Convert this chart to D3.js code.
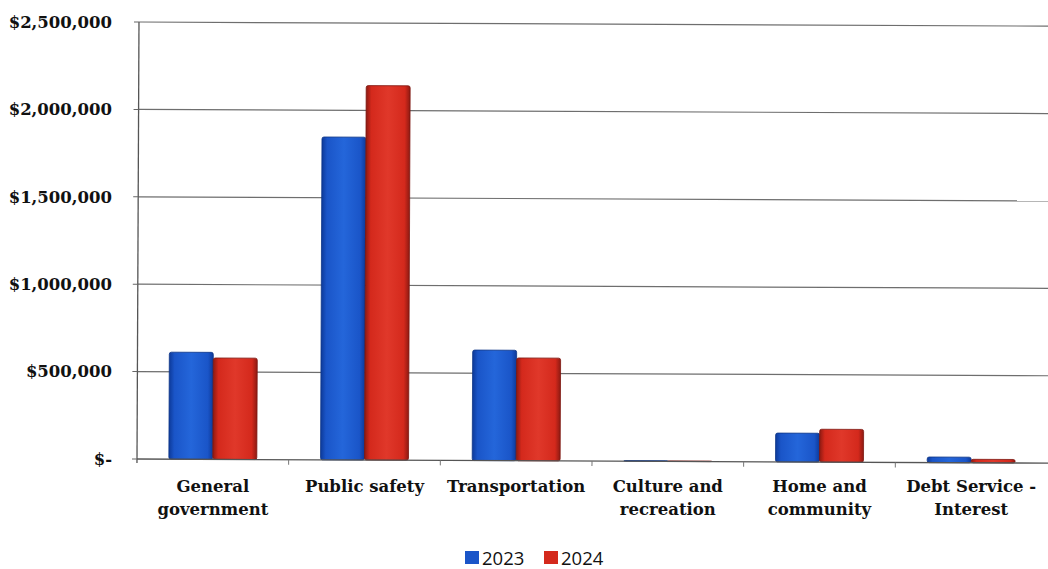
<!DOCTYPE html>
<html>
<head>
  <meta charset="utf-8">
  <title>Expenditures 2023 vs 2024</title>
  <style>
    body { margin: 0; background: #fff; }
    .tick-label { font-family: "DejaVu Serif", "Liberation Serif", serif; font-weight: bold; font-size: 16.5px; fill: #111; }
    .cat-label { font-family: "DejaVu Serif", "Liberation Serif", serif; font-weight: bold; font-size: 16.5px; fill: #111; }
    .legend-label { font-family: "Open Sans", "Liberation Sans", sans-serif; font-size: 18.5px; fill: #111; }
  </style>
</head>
<body>
  <script src="https://d3js.org/d3.v7.min.js"></script>
  <script>
    var categories = [["General", "government"], ["Public safety"], ["Transportation"], ["Culture and", "recreation"], ["Home and", "community"], ["Debt Service -", "Interest"]];
    var series = ["2023", "2024"];
    var values2023 = [612000, 1847000, 632000, 4000, 165000, 32000];
    var values2024 = [580000, 2142000, 588000, 3000, 188000, 20000];
    var yTicks = [0, 500000, 1000000, 1500000, 2000000, 2500000];
    var yTickLabels = ["$-", "$500,000", "$1,000,000", "$1,500,000", "$2,000,000", "$2,500,000"];

    var W = 1048, H = 569;
    var margin = {top: 22, right: 0, bottom: 110, left: 137};
    var width = 1048 - margin.left - 1,
        height = 459 - margin.top;

    var svg = d3.select("body").append("svg")
        .attr("width", W)
        .attr("height", H);

    var defs = svg.append("defs");
    function barGrad(id, edge, mid, light) {
      var g = defs.append("linearGradient").attr("id", id)
          .attr("x1", "0").attr("x2", "1").attr("y1", "0").attr("y2", "0");
      g.append("stop").attr("offset", "0").attr("stop-color", edge);
      g.append("stop").attr("offset", "0.12").attr("stop-color", mid);
      g.append("stop").attr("offset", "0.5").attr("stop-color", light);
      g.append("stop").attr("offset", "0.88").attr("stop-color", mid);
      g.append("stop").attr("offset", "1").attr("stop-color", edge);
    }
    barGrad("g2023", "#0d3a9a", "#1a55c8", "#2466da");
    barGrad("g2024", "#8e1a12", "#d4291c", "#e0382a");
    var colors = {"2023": "url(#g2023)", "2024": "url(#g2024)"};
    var legendColors = {"2023": "#1a55c8", "2024": "#d4291c"};

    var data = categories.map(function(c, i) {
      return {cat: c.join(" "), lines: c, v: {"2023": values2023[i], "2024": values2024[i]}};
    });

    var x = d3.scaleBand()
        .domain(data.map(function(d) { return d.cat; }))
        .range([0, width])
        .paddingInner(0)
        .paddingOuter(0);

    var x1 = d3.scaleBand()
        .domain(series)
        .range([x.bandwidth() * 0.21, x.bandwidth() * 0.79]);

    var y = d3.scaleLinear()
        .domain([0, 2500000])
        .range([height, 0]);

    // plot area, slightly skewed as in the scanned original
    var plot = svg.append("g")
        .attr("transform", "translate(" + margin.left + "," + margin.top + ") rotate(0.26, 0, " + height + ")");

    plot.selectAll(".grid")
        .data(yTicks.slice(1))
        .enter().append("line")
        .attr("class", "grid")
        .attr("x1", 0).attr("x2", width + 20)
        .attr("y1", function(d) { return y(d); })
        .attr("y2", function(d) { return y(d); })
        .attr("stroke", "#6e6e6e")
        .attr("stroke-width", 1.2);

    var groups = plot.selectAll(".cat")
        .data(data)
        .enter().append("g")
        .attr("transform", function(d) { return "translate(" + x(d.cat) + ",0)"; });

    groups.selectAll("rect")
        .data(function(d) { return series.map(function(s) { return {s: s, v: d.v[s]}; }); })
        .enter().append("rect")
        .attr("x", function(d) { return x1(d.s); })
        .attr("y", function(d) { return y(d.v); })
        .attr("width", x1.bandwidth())
        .attr("height", function(d) { return height - y(d.v); })
        .attr("rx", 2)
        .attr("fill", function(d) { return colors[d.s]; })
        .attr("stroke", function(d) { return d.s === "2023" ? "#0c3486" : "#7d1610"; })
        .attr("stroke-width", 0.8);

    // x axis
    var xAxis = plot.append("g")
        .attr("transform", "translate(0," + height + ")");
    xAxis.append("line")
        .attr("x1", 0).attr("x2", width + 20)
        .attr("stroke", "#555").attr("stroke-width", 1.3);
    xAxis.selectAll(".xt")
        .data(data.slice(1))
        .enter().append("line")
        .attr("x1", function(d) { return x(d.cat); })
        .attr("x2", function(d) { return x(d.cat); })
        .attr("y1", 0).attr("y2", 5)
        .attr("stroke", "#777");

    // y axis
    var yAxis = plot.append("g");
    yAxis.append("line")
        .attr("x1", 0).attr("x2", 0)
        .attr("y1", 0).attr("y2", height + 4)
        .attr("stroke", "#555").attr("stroke-width", 1.3);
    yAxis.selectAll(".yt")
        .data(yTicks)
        .enter().append("line")
        .attr("x1", -5).attr("x2", 0)
        .attr("y1", function(d) { return y(d); })
        .attr("y2", function(d) { return y(d); })
        .attr("stroke", "#666");

    // y tick labels
    svg.append("g").selectAll("text")
        .data(yTicks)
        .enter().append("text")
        .attr("class", "tick-label")
        .attr("x", margin.left - 25)
        .attr("y", function(d) { return margin.top + y(d); })
        .attr("dy", "0.35em")
        .attr("text-anchor", "end")
        .text(function(d, i) { return yTickLabels[i]; });

    // category labels
    var cl = svg.append("g").selectAll("text")
        .data(data)
        .enter().append("text")
        .attr("class", "cat-label")
        .attr("text-anchor", "middle")
        .attr("x", function(d) { return margin.left + x(d.cat) + x.bandwidth() / 2; })
        .attr("y", 492);
    cl.selectAll("tspan")
        .data(function(d) { return d.lines; })
        .enter().append("tspan")
        .attr("x", function() { var p = d3.select(this.parentNode).datum(); return margin.left + x(p.cat) + x.bandwidth() / 2; })
        .attr("dy", function(d, i) { return i === 0 ? 0 : 23; })
        .text(function(d) { return d; });

    // legend
    var legend = svg.append("g").attr("transform", "translate(465,551)");
    var li = legend.selectAll("g")
        .data(series)
        .enter().append("g")
        .attr("transform", function(d, i) { return "translate(" + (i * 79) + ",0)"; });
    li.append("rect")
        .attr("width", 14).attr("height", 13)
        .attr("fill", function(d) { return legendColors[d]; });
    li.append("text")
        .attr("class", "legend-label")
        .attr("x", 17).attr("y", 14)
        .text(function(d) { return d; });
  </script>
</body>
</html>
